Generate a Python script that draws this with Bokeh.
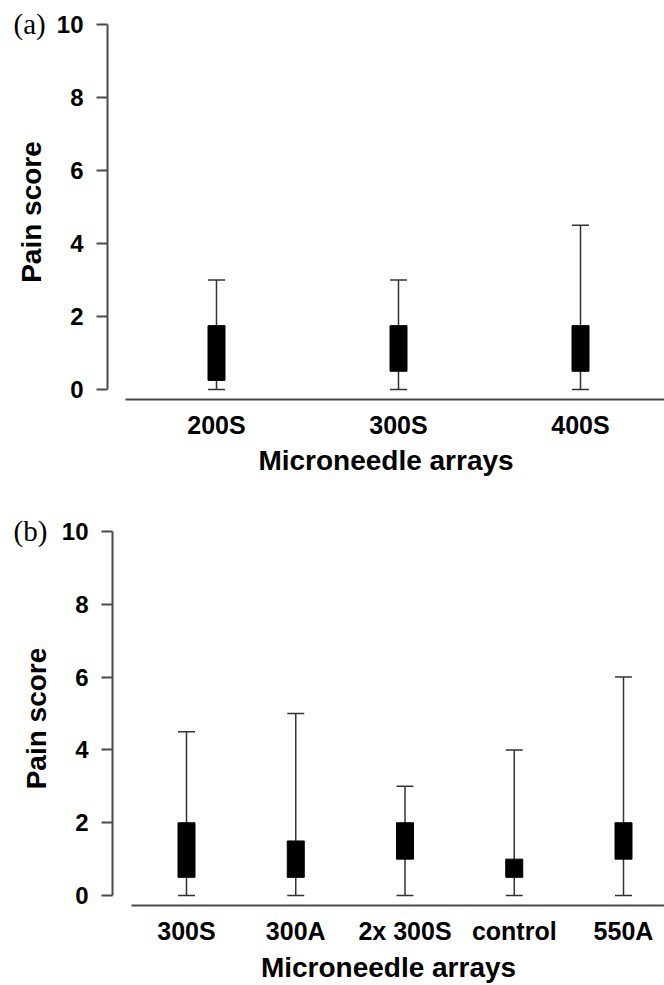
from bokeh.plotting import figure
from bokeh.models import Range1d, FixedTicker, Whisker, TeeHead, ColumnDataSource
from bokeh.layouts import column, row
from bokeh.embed import file_html
from bokeh.resources import INLINE

# ---- data ----
cats_a = ["200S", "300S", "400S"]
q1_a = [0.25, 0.5, 0.5]
q3_a = [1.75, 1.75, 1.75]
lo_a = [0, 0, 0]
hi_a = [3.0, 3.0, 4.5]

cats_b = ["300S", "300A", "2x 300S", "control", "550A"]
q1_b = [0.5, 0.5, 1.0, 0.5, 1.0]
q3_b = [2.0, 1.5, 2.0, 1.0, 2.0]
lo_b = [0, 0, 0, 0, 0]
hi_b = [4.5, 5.0, 3.0, 4.0, 6.0]

y_ticks = [0, 2, 4, 6, 8, 10]

AXIS_COL = "#4a4a4a"
WHISK_COL = "#333333"
SANS = "Liberation Sans"


def panel(cats, q1, q3, lo, hi, tag, height, top, left, bottom,
          x_start, x_end, y_start, xlab_size, title_size, xstand, tstand):
    n = len(cats)
    xs = list(range(1, n + 1))
    p = figure(width=664, height=height,
               x_range=Range1d(x_start, x_end), y_range=Range1d(y_start, 10),
               output_backend="svg", toolbar_location=None,
               min_border_top=top, min_border_left=left,
               min_border_right=0, min_border_bottom=bottom)
    p.outline_line_color = None
    p.xgrid.visible = False
    p.ygrid.visible = False
    p.background_fill_color = "white"
    p.border_fill_color = "white"

    # panel tag "(a)" / "(b)" drawn as the plot title, pulled down beside the top tick
    p.title.text = tag
    p.title.align = "left"
    p.title.offset = 13 - left
    p.title.standoff = -31
    p.title.text_font = "Liberation Serif"
    p.title.text_font_style = "normal"
    p.title.text_font_size = "29px"
    p.title.text_color = "black"

    src = ColumnDataSource(dict(
        x=xs, lo=lo, hi=hi,
        mid=[(a + b) / 2 for a, b in zip(q1, q3)],
        h=[b - a for a, b in zip(q1, q3)],
    ))
    w = Whisker(base="x", lower="lo", upper="hi", source=src,
                line_color=WHISK_COL, line_width=1.5, level="underlay",
                upper_head=TeeHead(size=17, line_color=WHISK_COL, line_width=1.5),
                lower_head=TeeHead(size=17, line_color=WHISK_COL, line_width=1.5))
    p.add_layout(w)
    p.rect(x="x", y="mid", width=17, width_units="screen", height="h",
           source=src, fill_color="black", line_color="black")

    # y axis
    ya = p.yaxis[0]
    ya.ticker = FixedTicker(ticks=y_ticks)
    ya.bounds = (0, 10)
    ya.axis_line_color = AXIS_COL
    ya.axis_line_width = 2
    ya.major_tick_line_color = AXIS_COL
    ya.major_tick_line_width = 2
    ya.major_tick_out = 11
    ya.major_tick_in = 0
    ya.minor_tick_line_color = None
    ya.major_label_standoff = 13
    ya.major_label_text_font = SANS
    ya.major_label_text_font_style = "bold"
    ya.major_label_text_font_size = "24px"
    ya.major_label_text_color = "black"
    ya.axis_label = "Pain score"
    ya.axis_label_text_font = SANS
    ya.axis_label_text_font_style = "bold"
    ya.axis_label_text_font_size = "28px"
    ya.axis_label_text_color = "black"
    ya.axis_label_standoff = 7

    # x axis
    xa = p.xaxis[0]
    xa.ticker = FixedTicker(ticks=xs)
    xa.major_label_overrides = {i: c for i, c in zip(xs, cats)}
    xa.bounds = (0.5, x_end)
    xa.axis_line_color = AXIS_COL
    xa.axis_line_width = 2
    xa.major_tick_line_color = None
    xa.major_tick_out = 0
    xa.major_tick_in = 0
    xa.minor_tick_line_color = None
    xa.major_label_standoff = xstand
    xa.major_label_text_font = SANS
    xa.major_label_text_font_style = "bold"
    xa.major_label_text_font_size = xlab_size
    xa.major_label_text_color = "black"
    xa.axis_label = "Microneedle arrays"
    xa.axis_label_text_font = SANS
    xa.axis_label_text_font_style = "bold"
    xa.axis_label_text_font_size = title_size
    xa.axis_label_text_color = "black"
    xa.axis_label_standoff = tstand
    return p


ppu_a = 182.0
pa = panel(cats_a, q1_a, q3_a, lo_a, hi_a, "(a)",
           height=490, top=24, left=107, bottom=91,
           x_start=1 - (216 - 107) / ppu_a, x_end=3 + (664 - 580) / ppu_a,
           y_start=-10 / 36.5,
           xlab_size="25px", title_size="28px", xstand=11, tstand=3)

ppu_b = 109.25
pb = panel(cats_b, q1_b, q3_b, lo_b, hi_b, "(b)",
           height=495, top=41, left=112, bottom=78,
           x_start=1 - (186 - 112) / ppu_b, x_end=5 + (664 - 623) / ppu_b,
           y_start=-10 / 36.6,
           xlab_size="25px", title_size="28px", xstand=11, tstand=4)

layout = column(row(pa), row(pb), spacing=0)
open("out.html", "w").write(file_html(layout, INLINE))
